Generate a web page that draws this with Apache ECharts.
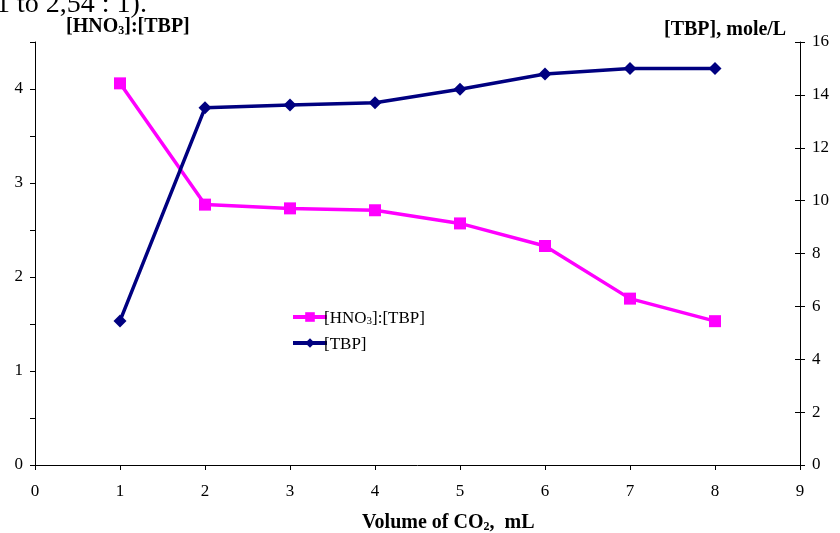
<!DOCTYPE html>
<html><head><meta charset="utf-8">
<script src="https://cdn.jsdelivr.net/npm/echarts@6/dist/echarts.min.js"></script>
<style>html,body{margin:0;padding:0;background:#fff}#c{width:840px;height:533px}</style>
</head><body><div id="c"></div>
<script>
var volumes = [1, 2, 3, 4, 5, 6, 7, 8];
var ratioHNO3TBP = [4.06, 2.77, 2.73, 2.71, 2.57, 2.33, 1.77, 1.53];
var concTBP = [5.45, 13.51, 13.62, 13.70, 14.21, 14.79, 15.0, 15.0];
var xTicks = [0, 1, 2, 3, 4, 5, 6, 7, 8, 9];
var leftTicks = [0, 1, 2, 3, 4];
var rightTicks = [0, 2, 4, 6, 8, 10, 12, 14, 16];

var F = '"Liberation Serif", "Times New Roman", serif';
var chart = echarts.init(document.getElementById('c'));
function titleRich(size) {
  return {
    b: {fontFamily: F, fontSize: size, fontWeight: 'bold', color: '#000', lineHeight: size + 2, verticalAlign: 'bottom'},
    sub: {fontFamily: F, fontSize: Math.round(size * 0.62), fontWeight: 'bold', color: '#000', verticalAlign: 'bottom', lineHeight: size - 1}
  };
}
chart.setOption({
  animation: false,
  backgroundColor: '#fff',
  grid: {left: 35, right: 40, top: 42, bottom: 68},
  legend: {
    orient: 'vertical', left: 286, top: 305, itemWidth: 34, itemHeight: 12, itemGap: 9,
    data: ['[HNO3]:[TBP]', '[TBP]'],
    lineStyle: {width: 4},
    textStyle: {fontFamily: F, fontSize: 17, color: '#000', padding: [0,0,0,-8], rich: {
      n: {fontFamily: F, fontSize: 17, color: '#000', lineHeight: 20, verticalAlign: 'bottom'},
      s: {fontFamily: F, fontSize: 11, color: '#000', verticalAlign: 'bottom', lineHeight: 18}}},
    formatter: function (name) {
      if (name === '[HNO3]:[TBP]') return '{n|[HNO}{s|3}{n|]:[TBP]}';
      return '{n|' + name + '}';
    }
  },
  xAxis: {
    type: 'value', min: xTicks[0], max: xTicks[xTicks.length-1], interval: 1,
    axisLine: {lineStyle: {color: '#000', width: 1}},
    axisTick: {show: true, inside: false, length: 5, lineStyle: {color: '#000'}},
    axisLabel: {fontFamily: F, fontSize: 17, color: '#000', margin: 18},
    splitLine: {show: false}
  },
  yAxis: [{
    type: 'value', min: 0, max: 4.5, interval: 0.5, position: 'left',
    axisLine: {show: true, lineStyle: {color: '#000'}},
    axisTick: {show: true, inside: false, length: 5, lineStyle: {color: '#000'}},
    axisLabel: {fontFamily: F, fontSize: 17, color: '#000', margin: 12,
      formatter: function (v) { return leftTicks.indexOf(v) >= 0 ? String(v) : ''; }},
    splitLine: {show: false}
  }, {
    type: 'value', min: rightTicks[0], max: rightTicks[rightTicks.length-1], interval: 2, position: 'right',
    axisLine: {show: true, onZero: false, lineStyle: {color: '#000'}},
    axisTick: {show: true, inside: false, length: 5, lineStyle: {color: '#000'}},
    axisLabel: {fontFamily: F, fontSize: 17, color: '#000', margin: 12},
    splitLine: {show: false}
  }, {
    type: 'value', min: rightTicks[0], max: rightTicks[rightTicks.length-1], interval: 2, position: 'right',
    axisLine: {show: false, onZero: false},
    axisTick: {show: true, inside: true, length: 5, lineStyle: {color: '#000'}},
    axisLabel: {show: false},
    splitLine: {show: false}
  }],
  series: [{
    name: '[HNO3]:[TBP]', type: 'line', yAxisIndex: 0,
    data: volumes.map(function (v, i) { return [v, ratioHNO3TBP[i]]; }),
    symbol: 'rect', symbolSize: 12,
    lineStyle: {color: '#FF00FF', width: 3.5},
    itemStyle: {color: '#FF00FF'}
  }, {
    name: '[TBP]', type: 'line', yAxisIndex: 1,
    data: volumes.map(function (v, i) { return [v, concTBP[i]]; }),
    symbol: 'diamond', symbolSize: 13,
    lineStyle: {color: '#000080', width: 3.5},
    itemStyle: {color: '#000080'}
  }],
  graphic: [
    {type: 'text', x: -4, y: -9, silent: true, style: {text: '1 to 2,54 : 1).', font: '28px ' + F, fill: '#000'}},
    {type: 'text', x: 66, y: 15, silent: true, style: {text: '{b|[HNO}{sub|3}{b|]:[TBP]}', fill: '#000', rich: titleRich(20)}},
    {type: 'text', x: 664, y: 20, silent: true, style: {text: '[TBP], mole/L', font: 'bold 20px ' + F, fill: '#000'}},
    {type: 'text', x: 362, y: 511, silent: true, style: {text: '{b|Volume of CO}{sub|2}{b|,  mL}', fill: '#000', rich: titleRich(20)}}
  ]
});
</script></body></html>
